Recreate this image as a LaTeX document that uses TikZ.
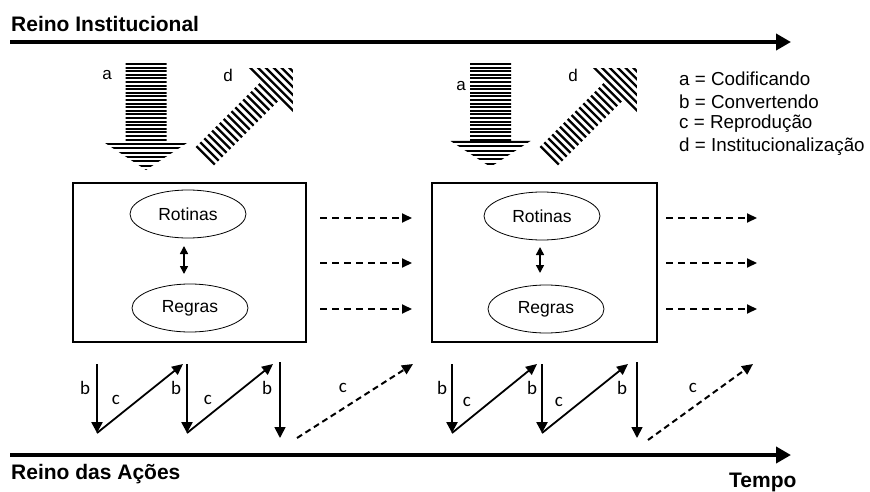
\documentclass[tikz,border=0pt]{standalone}
\usepackage{fontspec}
\setmainfont{Liberation Sans}
\newfontfamily\calib{Carlito}
\usetikzlibrary{arrows.meta,shapes.geometric}

% hatched block arrow: #1 start, #2 angle, #3 shaft length, #4 shaft width,
% #5 head length, #6 head width, #7 stripe width, #8 stripe list
\newcommand{\hatcharrow}[8]{%
  \begin{scope}[shift={#1}, rotate=#2]
    \clip (0,-#4/2) -- (#3,-#4/2) -- (#3,-#6/2) -- (#3+#5,0) -- (#3,#6/2) -- (#3,#4/2) -- (0,#4/2) -- cycle;
    \foreach \u in {#8} {\draw[line width=#7] (\u,-#6/2-2) -- (\u,#6/2+2);}
  \end{scope}}

\begin{document}
\begin{tikzpicture}[x=1pt,y=-1pt,
  axis/.style={line width=4.5pt,-{Triangle[length=15pt,width=16pt]}},
  bigtitle/.style={font=\fontsize{21}{25}\selectfont\bfseries, anchor=base west, inner sep=0},
  legend/.style={font=\fontsize{18.8}{22}\selectfont, anchor=west, inner sep=0},
  frame/.style={draw, line width=2pt, minimum height=159pt, inner sep=0},
  oval/.style={ellipse, draw, line width=0.8pt, minimum width=116pt, minimum height=48pt, inner sep=0, font=\fontsize{17.5}{20}\selectfont},
  flow/.style={line width=2pt, dash pattern=on 7pt off 5pt, -{Triangle[length=10pt,width=9pt]}},
  dbl/.style={line width=1.5pt, {Triangle[length=8pt,width=8pt]}-{Triangle[length=8pt,width=8pt]}},
  conv/.style={line width=2.5pt, -{Triangle[length=11pt,width=11pt]}},
  convthin/.style={line width=1.7pt, -{Triangle[length=11pt,width=11pt]}},
  reprod/.style={line width=1.8pt, -{Triangle[length=11pt,width=10pt]}},
  reproddash/.style={line width=2pt, dash pattern=on 6pt off 4pt, -{Triangle[length=11pt,width=10pt]}},
  small/.style={font=\fontsize{17}{20}\selectfont, inner sep=0},
  lbl/.style={font=\calib\fontsize{19}{22}\selectfont, inner sep=0},
]
\useasboundingbox[fill=white] (0,0) rectangle (870,492);

% titles and axes
\node[bigtitle] (tinst) at (11,32) {Reino Institucional};
\node[bigtitle] (tacao) at (11,479) {Reino das Ações};
\node[bigtitle] (ttempo) at (729,487) {Tempo};
\coordinate (ti0) at (10,42);
\coordinate (ti1) at (791,42);
\coordinate (ta0) at (10,455);
\coordinate (ta1) at (791,455);
\draw[axis] (ti0) -- (ti1);
\draw[axis] (ta0) -- (ta1);

% legend
\node[legend] (la) at (679,79) {a = Codificando};
\node[legend] (lb) at (679,101.5) {b = Convertendo};
\node[legend] (lc) at (679,124) {c = Reprodução};
\node[legend] (ld) at (679,146.5) {d = Institucionalização};

% hatched arrows, group 1
\hatcharrow{(146,63)}{-90}{80}{41}{27}{82}{2pt}{1,4.6,...,80}
\hatcharrow{(146,63)}{-90}{80}{41}{27}{82}{2pt}{80.8,85.2,...,108}
\hatcharrow{(204.6,156.4)}{45}{92}{26}{33}{66}{2.3pt}{1.5,7,...,125}
\node[small] (sa1) at (107,75) {a};
\node[small] (sd1) at (228,75) {d};

% hatched arrows, group 2
\hatcharrow{(490.5,63)}{-90}{78}{41}{26}{80}{2pt}{1,4.6,...,78}
\hatcharrow{(490.5,63)}{-90}{78}{41}{26}{80}{2pt}{78.8,83.2,...,105}
\hatcharrow{(548.6,156.4)}{45}{92}{26}{33}{66}{2.3pt}{1.5,7,...,125}
\node[small] (sa2) at (461,86) {a};
\node[small] (sd2) at (573,75) {d};

% boxes
\node[frame, minimum width=233pt] (box1) at (189.5,262.5) {};
\node[frame, minimum width=225pt] (box2) at (544.5,262.5) {};
\node[oval] (r1) at (188,214) {Rotinas};
\node[oval] (g1) at (190,308) {Regras};
\node[oval] (r2) at (542,216) {Rotinas};
\node[oval] (g2) at (546,309) {Regras};
\coordinate (da1) at (184,246); \coordinate (db1) at (184,274);
\coordinate (da2) at (540,247); \coordinate (db2) at (540,273);
\draw[dbl] (da1) -- (db1);
\draw[dbl] (da2) -- (db2);

% dashed flows
\foreach \y [count=\k] in {218,263,309} {
  \coordinate (fa\k) at (320,\y); \coordinate (fb\k) at (412,\y);
  \draw[flow] (fa\k) -- (fb\k);
  \coordinate (fc\k) at (666,\y); \coordinate (fd\k) at (757,\y);
  \draw[flow] (fc\k) -- (fd\k);
}

% bottom zigzag, group 1
\coordinate (p1) at (97,364);  \coordinate (q1) at (97,433);
\coordinate (p2) at (183,364);
\coordinate (p3) at (187,364); \coordinate (q3) at (187,433);
\coordinate (p4) at (273,364);
\coordinate (p5) at (280,362); \coordinate (q5) at (280,438);
\coordinate (p6) at (297,438); \coordinate (q6) at (413,364);
\draw[conv] (p1) -- (q1);
\draw[reprod] (q1) -- (p2);
\draw[conv] (p3) -- (q3);
\draw[reprod] (q3) -- (p4);
\draw[convthin] (p5) -- (q5);
\draw[reproddash] (p6) -- (q6);
\node[lbl] (b11) at (85,388) {b};
\node[lbl] (c11) at (116,400) {c};
\node[lbl] (b12) at (176,388) {b};
\node[lbl] (c12) at (208,400) {c};
\node[lbl] (b13) at (267,388) {b};
\node[lbl] (c13) at (343,388) {c};

% bottom zigzag, group 2
\coordinate (s1) at (452,364); \coordinate (t1) at (452,433);
\coordinate (s2) at (537,364);
\coordinate (s3) at (542,364); \coordinate (t3) at (542,433);
\coordinate (s4) at (628,364);
\coordinate (s5) at (637,362); \coordinate (t5) at (637,438);
\coordinate (s6) at (648,440); \coordinate (t6) at (753,364);
\draw[conv] (s1) -- (t1);
\draw[reprod] (t1) -- (s2);
\draw[conv] (s3) -- (t3);
\draw[reprod] (t3) -- (s4);
\draw[convthin] (s5) -- (t5);
\draw[reproddash] (s6) -- (t6);
\node[lbl] (b21) at (442,388) {b};
\node[lbl] (c21) at (467,402) {c};
\node[lbl] (b22) at (532,388) {b};
\node[lbl] (c22) at (559,402) {c};
\node[lbl] (b23) at (622,388) {b};
\node[lbl] (c23) at (693,388) {c};
\end{tikzpicture}
\end{document}
